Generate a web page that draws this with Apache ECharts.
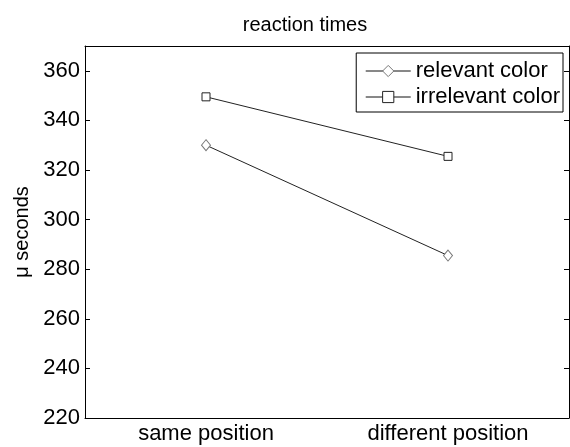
<!DOCTYPE html>
<html>
<head>
<meta charset="utf-8">
<script src="https://cdn.jsdelivr.net/npm/echarts@6/dist/echarts.min.js"></script>
<style>
  html, body { margin: 0; padding: 0; background: #fff; }
  #chart { width: 570px; height: 447px; }
</style>
</head>
<body>
<div id="chart"></div>
<script>
const categories = ["same position", "different position"];
const relevantColor = [330, 285.5];
const irrelevantColor = [349.5, 325.5];
const yTicks = [220, 240, 260, 280, 300, 320, 340, 360];

const font = "Liberation Sans, Arial, sans-serif";
let chart = echarts.init(document.getElementById("chart"));

chart.setOption({
  animation: false,
  backgroundColor: "#fff",
  textStyle: { fontFamily: font, color: "#000" },
  title: {
    text: "reaction times",
    left: 300,
    textAlign: "center",
    top: 10,
    textStyle: { fontSize: 20, fontWeight: "normal", color: "#000", fontFamily: font },
  },
  legend: {
    right: 7,
    top: 53,
    orient: "vertical",
    itemWidth: 45,
    itemHeight: 14,
    itemGap: 4,
    padding: [7, 3, 4, 9],
    borderColor: "#000",
    borderWidth: 1,
    backgroundColor: "#fff",
    lineStyle: { width: 1, color: "#111" },
    itemStyle: { borderWidth: 1 },
    textStyle: { fontSize: 22, color: "#000", fontFamily: font },
    data: ["relevant color", "irrelevant color"],
  },
  grid: { left: 85, right: 1, top: 46, bottom: 29 },
  xAxis: [
    {
      type: "category",
      data: categories,
      boundaryGap: true,
      axisLine: { lineStyle: { color: "#000", width: 1 } },
      axisTick: { inside: true, alignWithLabel: true, length: 5, lineStyle: { color: "#000" } },
      axisLabel: { fontSize: 22, color: "#000", margin: 5, fontFamily: font },
      splitLine: { show: false },
    },
    {
      type: "category",
      position: "top",
      data: categories,
      boundaryGap: true,
      axisLine: { lineStyle: { color: "#000", width: 1 } },
      axisTick: { inside: true, alignWithLabel: true, length: 5, lineStyle: { color: "#000" } },
      axisLabel: { show: false },
    },
  ],
  yAxis: [
    {
      type: "value",
      min: 220,
      max: 370,
      interval: 20,
      name: "\u03bc seconds",
      nameLocation: "middle",
      nameGap: 48,
      nameTextStyle: { fontSize: 20, color: "#000", fontFamily: font },
      axisLine: { show: true, lineStyle: { color: "#000", width: 1 } },
      axisTick: { show: true, inside: true, length: 5, lineStyle: { color: "#000" } },
      axisLabel: {
        fontSize: 22,
        color: "#000",
        margin: 5,
        fontFamily: font,
        formatter: (v) => (yTicks.includes(v) ? String(v) : ""),
      },
      splitLine: { show: false },
    },
    {
      type: "value",
      position: "right",
      min: 220,
      max: 370,
      interval: 20,
      axisLine: { show: true, lineStyle: { color: "#000", width: 1 } },
      axisTick: { show: true, inside: true, length: 5, lineStyle: { color: "#000" } },
      axisLabel: { show: false },
      splitLine: { show: false },
    },
  ],
  series: [
    {
      name: "relevant color",
      type: "line",
      data: relevantColor,
      symbol: "path://M0,-1 L1,0 L0,1 L-1,0 Z",
      symbolSize: [9, 11],
      showAllSymbol: true,
      lineStyle: { color: "#222", width: 1 },
      itemStyle: { color: "#fff", borderColor: "#777", borderWidth: 1 },
    },
    {
      name: "irrelevant color",
      type: "line",
      data: irrelevantColor,
      symbol: "rect",
      symbolSize: 8,
      showAllSymbol: true,
      lineStyle: { color: "#222", width: 1 },
      itemStyle: { color: "#fff", borderColor: "#222", borderWidth: 1 },
    },
  ],
});

window.addEventListener("resize", () => {
  if (chart) {
    chart.resize();
  }
});
</script>
</body>
</html>
